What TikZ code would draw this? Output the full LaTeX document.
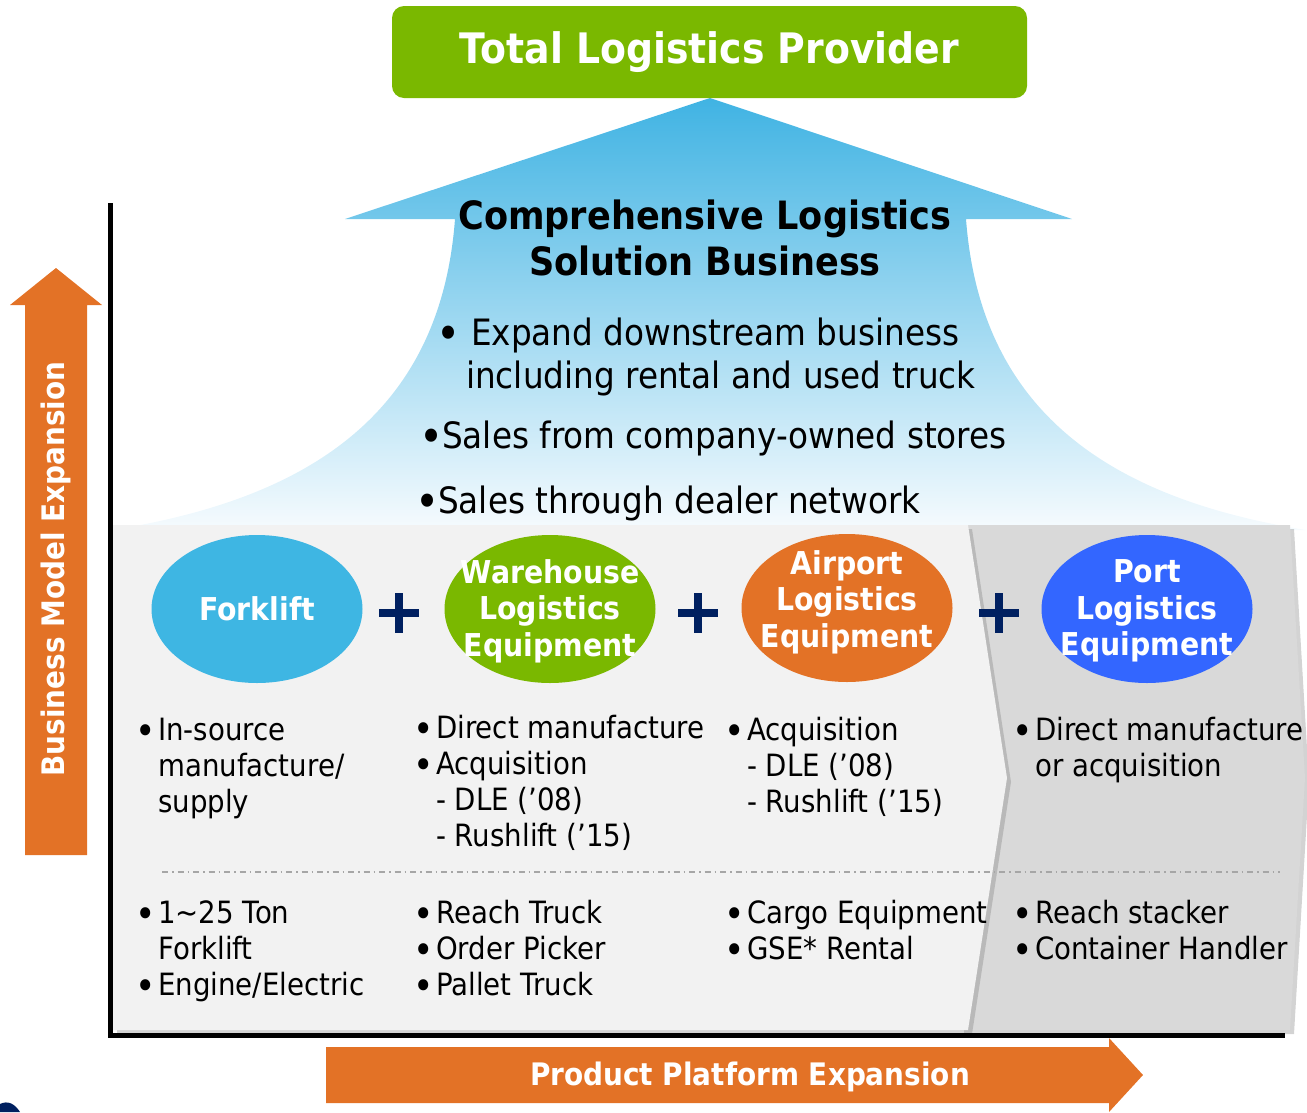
\documentclass[tikz,border=0pt]{standalone}
\usepackage{fontspec}
\setmainfont{DejaVu Sans}[FakeStretch=0.9]
\usepackage{tikz}
\usetikzlibrary{shapes.geometric,shadows}
\definecolor{leaf}{HTML}{7AB800}
\definecolor{sky}{HTML}{3EB6E3}
\definecolor{skytop}{HTML}{40B3E3}
\definecolor{skybot}{HTML}{F6FBFE}
\definecolor{rust}{HTML}{E37226}
\definecolor{royal}{HTML}{3366FF}
\definecolor{navy}{HTML}{002060}
\definecolor{panel}{HTML}{F2F2F2}
\definecolor{panelB}{HTML}{D9D9D9}
\definecolor{rule}{HTML}{A6A6A6}
\newcommand\bul[1][23pt]{\makebox[#1][l]{\raisebox{-0.13em}{\scalebox{1.25}{\textbullet}}}}
\newcommand\ind[1][23pt]{\hspace*{#1}}
\tikzset{
  oval/.style={ellipse, minimum width=211pt, minimum height=148pt, inner sep=0pt},
  ovaltext/.style={text=white, align=center, inner sep=0pt,
                   font=\fontsize{31.5}{36.5}\selectfont\bfseries},
  body/.style={anchor=base west, inner sep=0pt, align=left,
               font=\fontsize{30.7}{36}\selectfont},
  bluebody/.style={anchor=base west, inner sep=0pt, align=left,
                   font=\fontsize{36.3}{43}\selectfont},
  bandtext/.style={text=white, inner sep=0pt, font=\fontsize{31}{36}\selectfont\bfseries},
  panelshadow/.style={drop shadow={shadow xshift=4pt, shadow yshift=-4pt, opacity=0.35}}
}

\begin{document}
\begin{tikzpicture}[x=1pt,y=-1pt]
  \useasboundingbox (0,0) rectangle (1307,1112);

  % big upward arrow with the flared shaft
  \shade[top color=skytop, bottom color=skybot]
    (710,98) -- (1072,219) -- (966,219)
    .. controls (981,420) and (1121,500) .. (1306,530)
    -- (112,530)
    .. controls (300,500) and (440,420) .. (455,219)
    -- (345,219) -- cycle;

  % top box
  \node[fill=leaf, rounded corners=12pt, minimum width=635pt, minimum height=92pt,
        text=white, font=\fontsize{42}{48}\selectfont\bfseries] (tlp) at (709.5,52)
    {Total Logistics Provider};

  % texts inside the arrow (base = last line)
  \node[align=center, font=\fontsize{39}{46}\selectfont\bfseries] (clsb) at (705,238)
    {Comprehensive Logistics\\Solution Business};
  \node[bluebody] (down) at (436,388)
    {\bul[35pt]Expand downstream business\\\ind[30pt]including rental and used truck};
  \node[bluebody] (stores) at (419,448) {\bul Sales from company-owned stores};
  \node[bluebody] (dealer) at (415,513) {\bul Sales through dealer network};

  % product panels
  \fill[panelB, panelshadow] (960,525) -- (1290,525) -- (1305,778) -- (1290,1030)
    -- (960,1030) -- cycle;
  \fill[panel, panelshadow] (113,525) -- (968,525) -- (1007,778) -- (968,1030)
    -- (113,1030) -- cycle;
  \draw[rule, line width=1.2pt, dash pattern=on 6pt off 4pt on 1.5pt off 4pt]
    (162,872) -- (1280,872);

  % axes
  \draw[line width=5pt] (110,203) -- (110,1035) -- (1285,1035);

  % product ovals
  \node[oval, fill=sky] (fork) at (257,609) {};
  \node[oval, fill=leaf] (ware) at (550,609) {};
  \node[oval, fill=rust] (air) at (847,608) {};
  \node[oval, fill=royal] (port) at (1147,609) {};
  \node[ovaltext] at (fork) {Forklift};
  \node[ovaltext] at ([yshift=-2pt]ware.center) {Warehouse\\Logistics\\Equipment};
  \node[ovaltext] at ([yshift=6pt]air.center) {Airport\\Logistics\\Equipment};
  \node[ovaltext] at ([yshift=-2pt]port.center) {Port\\Logistics\\Equipment};
  \foreach \px in {399,698,999}
    \draw[navy, line width=8pt] (\px-20,613) -- (\px+20,613) (\px,593) -- (\px,633);

  % business model per product (base = last line)
  \node[body] (fork-bm) at (135,812) {\bul In-source\\\ind manufacture/\\\ind supply};
  \node[body] (ware-bm) at (413,846)
    {\bul Direct manufacture\\\bul Acquisition\\\ind - DLE (’08)\\\ind - Rushlift (’15)};
  \node[body] (air-bm) at (724,812) {\bul Acquisition\\\ind - DLE (’08)\\\ind - Rushlift (’15)};
  \node[body] (port-bm) at (1012,776) {\bul Direct manufacture\\\ind or acquisition};

  % product lines
  \node[body] (fork-pl) at (135,995) {\bul 1\textasciitilde25 Ton\\\ind Forklift\\\bul Engine/Electric};
  \node[body] (ware-pl) at (413,995) {\bul Reach Truck\\\bul Order Picker\\\bul Pallet Truck};
  \node[body] (air-pl) at (724,959) {\bul Cargo Equipment\\\bul GSE* Rental};
  \node[body] (port-pl) at (1012,959) {\bul Reach stacker\\\bul Container Handler};

  % expansion arrows
  \fill[rust] (56,268) -- (102,305) -- (87,305) -- (87,855) -- (25,855) -- (25,305)
    -- (10,305) -- cycle;
  \node[bandtext, rotate=90] (bme) at (56,569) {Business Model Expansion};
  \fill[rust] (326,1047) -- (1109,1047) -- (1109,1038) -- (1143,1075) -- (1109,1112)
    -- (1109,1103) -- (326,1103) -- cycle;
  \node[bandtext] (ppe) at (750,1077) {Product Platform Expansion};

  \fill[navy] (0,1112) -- (0,1104) .. controls (8,1100) and (15,1104) .. (20,1112) -- cycle;
\end{tikzpicture}
\end{document}
